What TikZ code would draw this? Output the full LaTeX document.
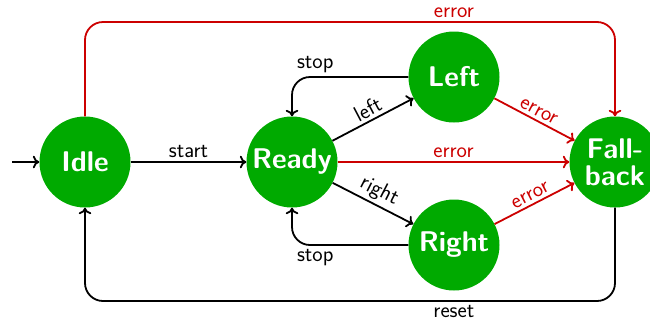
\documentclass[tikz,border=0pt]{standalone}
\usetikzlibrary{arrows.meta}
\definecolor{stategreen}{RGB}{0,170,0}
\definecolor{errred}{RGB}{204,0,0}
\begin{document}
\begin{tikzpicture}[x=1pt,y=-1pt,
  >={Computer Modern Rightarrow[length=6.5pt, width=12.5pt]},
  state/.style={circle, fill=stategreen, minimum size=91pt, inner sep=0pt,
    text=white, align=center,
    font=\sffamily\bfseries\fontsize{28.5}{27}\selectfont},
  edge/.style={line width=1.8pt, ->},
  err/.style={edge, draw=errred},
  lbl/.style={font=\sffamily\fontsize{22}{24}\selectfont, inner sep=3pt},
  errlbl/.style={lbl, text=errred},
  roundbend/.style={rounded corners=18pt}]
\useasboundingbox (0,0) rectangle (650,322);

% states
\node[state] (idle)     at (85,162)  {Idle};
\node[state] (ready)    at (292,162) {Ready};
\node[state] (left)     at (454,77)  {Left};
\node[state] (right)    at (454,245) {Right};
\node[state] (fallback) at (615,162) {Fall-\\back};

% helper points for the outer loops
\coordinate (init)   at (12,162);
\coordinate (topbar) at (0,22);
\coordinate (botbar) at (0,301);

% ordinary transitions
\draw[edge] (init) -- (idle);
\draw[edge] (idle) -- node[lbl, above] {start} (ready);
\draw[edge] (ready) -- node[lbl, above, sloped] {left} (left);
\draw[edge] (ready) -- node[lbl, above, sloped] {right} (right);
\draw[edge, roundbend] (left.west) -| node[lbl, pos=0.4, above] {stop} (ready.north);
\draw[edge, roundbend] (right.west) -| node[lbl, pos=0.4, below] {stop} (ready.south);
\draw[edge, roundbend] (fallback.south) -- (fallback.south |- botbar)
  -| node[lbl, pos=0.152, below] {reset} (idle.south);

% error transitions
\draw[err] (ready) -- node[errlbl, above] {error} (fallback);
\draw[err] (left) -- node[errlbl, above, sloped] {error} (fallback);
\draw[err] (right) -- node[errlbl, above, sloped] {error} (fallback);
\draw[err, roundbend] (idle.north) -- (idle.north |- topbar)
  -| node[errlbl, pos=0.348, above] {error} (fallback.north);
\end{tikzpicture}
\end{document}
